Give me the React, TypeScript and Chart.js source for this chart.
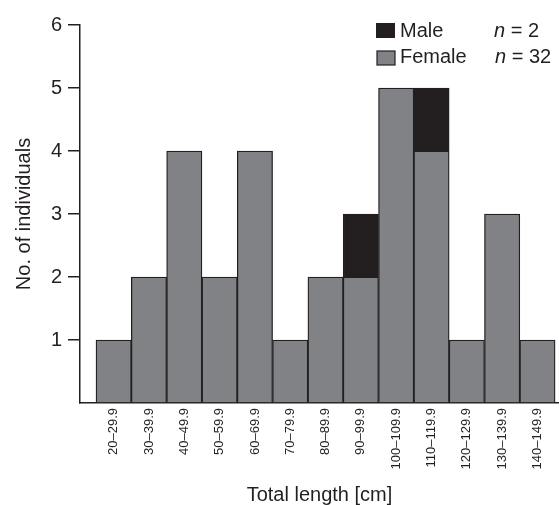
import React, { useEffect, useRef } from "react";
import { Chart, registerables } from "chart.js";

Chart.register(...registerables);

const categories = [
  "20–29.9", "30–39.9", "40–49.9", "50–59.9", "60–69.9", "70–79.9", "80–89.9",
  "90–99.9", "100–109.9", "110–119.9", "120–129.9", "130–139.9", "140–149.9",
];
const female = [1, 2, 4, 2, 4, 1, 2, 2, 5, 4, 1, 3, 1];
const male = [0, 0, 0, 0, 0, 0, 0, 1, 0, 1, 0, 0, 0];
const yTicks = [0, 1, 2, 3, 4, 5, 6];
const legendItems = [
  { label: "Male", n: "2" },
  { label: "Female", n: "32" },
];

const DARK = "#231f20";
const GRAY = "#808285";
const FONT = "'Liberation Sans', Arial, sans-serif";

const legendPlugin = {
  id: "customLegend",
  afterDraw(chart: any) {
    const { ctx, chartArea } = chart;
    const x0 = chartArea.right - 183;
    const y0 = chartArea.top;
    ctx.save();
    ctx.fillStyle = DARK;
    ctx.fillRect(x0, y0 - 2, 19, 15);
    ctx.fillStyle = GRAY;
    ctx.fillRect(x0 + 1, y0 + 26, 18, 14);
    ctx.strokeStyle = DARK;
    ctx.lineWidth = 1.2;
    ctx.strokeRect(x0 + 1, y0 + 26, 18, 14);
    ctx.fillStyle = DARK;
    ctx.textBaseline = "alphabetic";
    ctx.textAlign = "left";
    const baselines = [y0 + 12, y0 + 38];
    legendItems.forEach((it, i) => {
      ctx.font = `20px ${FONT}`;
      ctx.fillText(it.label, x0 + 24, baselines[i]);
      const nx = x0 + 118 + i * 1;
      ctx.font = `italic 20px ${FONT}`;
      ctx.fillText("n", nx, baselines[i]);
      const w = ctx.measureText("n").width;
      ctx.font = `20px ${FONT}`;
      ctx.fillText(" = " + it.n, nx + w, baselines[i]);
    });
    ctx.restore();
  },
};

export default function App() {
  const ref = useRef<HTMLCanvasElement | null>(null);
  useEffect(() => {
    document.body.style.margin = "0";
    const chart = new Chart(ref.current as HTMLCanvasElement, {
      type: "bar",
      data: {
        datasets: [
          {
            label: "Female",
            data: female.map((v, i) => ({ x: i, y: v })),
            backgroundColor: GRAY,
            borderColor: DARK,
            borderWidth: 1.3,
          },
          {
            label: "Male",
            data: male.map((v, i) => ({ x: i, y: v })),
            backgroundColor: DARK,
            borderColor: DARK,
            borderWidth: 1.3,
          },
        ],
      },
      options: {
        responsive: false,
        animation: false,
        layout: { padding: { top: 25, right: 0, left: 0, bottom: 0 } },
        datasets: { bar: { barPercentage: 1, categoryPercentage: 1 } },
        plugins: { legend: { display: false }, tooltip: { enabled: false } },
        scales: {
          x: {
            type: "linear",
            stacked: true,
            offset: false,
            min: -0.953,
            max: 12.61,
            afterBuildTicks: (scale: any) => {
              scale.ticks = categories.map((_, i) => ({ value: i }));
            },
            afterFit: (scale: any) => {
              scale.height = 102;
            },
            grid: { display: false, drawTicks: false },
            border: { display: true, color: DARK, width: 1.5 },
            ticks: {
              autoSkip: false,
              minRotation: 90,
              maxRotation: 90,
              padding: 5,
              color: DARK,
              font: { family: FONT, size: 13 },
              callback: (v: any) => categories[Math.round(Number(v))] ?? "",
            },
            title: {
              display: true,
              text: "Total length [cm]",
              color: DARK,
              font: { family: FONT, size: 20 },
              padding: { top: 0, bottom: -2 },
            },
          },
          y: {
            stacked: true,
            min: 0,
            max: 6,
            afterBuildTicks: (scale: any) => {
              scale.ticks = yTicks.map((v) => ({ value: v }));
            },
            afterFit: (scale: any) => {
              scale.width = 80;
            },
            grid: {
              drawOnChartArea: false,
              drawTicks: true,
              tickLength: 12,
              lineWidth: 1.5,
              color: (c: any) => (c.tick && c.tick.value === 0 ? "rgba(0,0,0,0)" : DARK),
            },
            border: { display: true, color: DARK, width: 1.5 },
            ticks: {
              padding: 6,
              color: DARK,
              font: { family: FONT, size: 20 },
              callback: (v: any) => (Number(v) === 0 ? "" : String(v)),
            },
            title: {
              display: true,
              text: "No. of individuals",
              color: DARK,
              font: { family: FONT, size: 20 },
              padding: { top: 12, bottom: 0 },
            },
          },
        },
      },
      plugins: [legendPlugin],
    } as any);
    return () => chart.destroy();
  }, []);
  return (
    <div style={{ width: 559, height: 505 }}>
      <canvas ref={ref} width={559} height={505} />
    </div>
  );
}
